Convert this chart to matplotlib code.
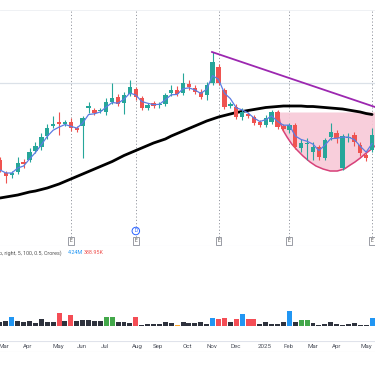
import matplotlib
matplotlib.use("Agg")
import matplotlib.pyplot as plt
import numpy as np
import pandas as pd

plt.rcParams['font.family'] = ['Roboto', 'DejaVu Sans']

# ---------------- data (weekly candles, week index 0 = 26 Feb 2024) ----------------
opens  = [140,127,125,128,138,140,149,153,164,174,178,176,178,172,174,192,190,189,188,198,
          203,197,206,211,202,192,197,195,196,207,210,207,216,212,208,205,217,233,210,194,
          193,183,186,183,178,175,178,188,174,170,175,152,156,148,153,142,163,167,132,162,
          165,155,145,150]
closes = [130,124,127,137,136,148,154,163,172,176,176,178,172,170,182,194,187,190,198,202,
          196,205,213,203,192,195,194,196,205,210,206,217,213,208,203,215,238,217,193,196,
          183,188,184,177,175,182,188,173,171,175,153,157,157,153,143,160,168,162,164,163,
          158,147,142,165]
highs  = [143,129,129,143,141,152,158,167,176,184,188,180,182,174,184,198,192,192,202,217,
          206,208,220,213,204,197,199,198,207,215,214,227,220,215,211,218,248,236,212,198,
          196,192,188,185,180,185,190,190,176,177,177,161,162,158,155,162,177,170,166,167,
          168,158,147,172]
lows   = [128,117,122,126,132,138,147,150,161,172,165,174,169,168,142,187,185,187,185,196,
          194,186,204,200,190,190,192,192,194,204,204,205,210,206,201,200,215,215,191,192,
          181,180,182,175,173,173,176,171,169,167,151,148,140,140,140,140,160,157,130,158,
          154,144,139,148]
# long moving average (black line), read per week
ma_long = [102,103,104,105,106.5,108,109,110.5,112,114,116,118.5,121,123.5,126,128.5,131,133.5,
           136,138.5,141.5,144.5,147,149.5,152,154.5,157,159,161,164,166.5,169,171.5,174,176.5,
           179,181,183,184.5,186,187.5,188.5,189.5,190.5,191.5,192.5,193,193.5,194,194,194,194,
           193.5,193.5,193,192.5,192,191.5,191,190,189,188,186.5,185.5]
# volume (millions)
volumes = [2.0,2.5,4.35,2.35,1.85,2.35,1.35,3.35,2.0,1.85,6.35,2.35,5.35,2.35,2.85,2.85,2.35,
           2.35,4.35,4.35,1.85,1.85,1.65,4.5,0.75,1.0,1.0,1.0,1.85,1.5,0.5,2.15,1.65,1.35,2.15,
           0.85,4.15,3.35,4.0,2.15,3.35,5.85,3.65,3.65,1.0,2.0,1.0,1.0,1.85,7.5,2.15,3.0,3.0,
           1.35,0.5,1.0,2.0,0.85,0.65,1.0,1.35,0.65,0.65,4.24]
vol_class = ['k','k','b','k','k','k','k','k','k','k','r','k','r','k','k','k','k','k','g','g',
             'k','k','k','r','k','k','k','k','k','k','o','k','k','k','k','k','b','r','r','k',
             'r','b','r','r','k','k','k','k','k','b','k','g','g','k','k','k','k','k','k','k',
             'k','k','k','b']
month_labels = ['Mar','Apr','May','Jun','Jul','Aug','Sep','Oct','Nov','Dec','2025','Feb','Mar','Apr','May']
month_idx    = [0.7, 4.75, 9.8, 13.9, 17.8, 23.2, 26.8, 31.8, 35.9, 40, 44.9, 48.9, 53, 57, 62]
earnings_idx = [12, 23, 37, 49, 63]
dividend_idx = [23]
# drawings
trend_idx   = [35.9, 63.5]
trend_price = [248, 193]
hline_price = 217
cup_idx   = [47.1,47.4,47.9,48.6,49.4,50.3,51.3,52.5,53.5,54.7,55.9,57.1,58.3,59.3,60.1,61.0,61.8,62.7,63.5]
cup_price = [188,178,170,163,156,150,144,138,134,131,129,129,131,135,138,142,146,150,154]
cup_top   = 188

# ---------------- figure ----------------
W, H = 375, 366
fig = plt.figure(figsize=(W/100, H/100), dpi=100)
fig.patch.set_facecolor('white')

def fy(px):  # pixel-from-top -> figure fraction
    return 1 - px / H

ax = fig.add_axes([0, fy(246), 1, 246/H])
vax = fig.add_axes([0, fy(341), 1, 95/H], sharex=ax)
tax = fig.add_axes([0, fy(352), 1, 11/H], sharex=ax)
for a in (ax, vax, tax):
    a.set_facecolor('none')
    for s in a.spines.values():
        s.set_visible(False)
    a.tick_params(left=False, bottom=False, labelleft=False, labelbottom=False)
ax.set_xlim(0, 63.5)
ax.set_ylim(54, 300)
vax.set_ylim(-7.5, 40)
tax.set_ylim(0, 1)

UP, DN = '#26a69a', '#ef5350'
idx = np.arange(len(opens))
o = np.array(opens, float); c = np.array(closes, float)
hi = np.array(highs, float); lo = np.array(lows, float)
cols = [UP if cc >= oo else DN for oo, cc in zip(o, c)]

# reference lines
ax.axhline(290, color='#eceff3', lw=0.6, zorder=0)
ax.axhline(hline_price, color='#dbe1e8', lw=0.9, zorder=0)
ax.vlines(earnings_idx, 63, 290, colors='#9598a1', linestyles=(0, (1.2, 2.2)), lw=0.7, zorder=0.5)

# cup pattern
cx = np.array(cup_idx); cy = np.array(cup_price)
ax.fill_between(cx, cy, cup_top, color='#f8c9d7', alpha=0.9, lw=0, zorder=1)
ax.plot(cx, cy, color='#d7427a', lw=1.1, zorder=2)

# long MA
ax.plot(idx, ma_long, color='black', lw=2.0, zorder=3, solid_capstyle='round')

# candles
ax.vlines(idx, lo, hi, colors=cols, lw=0.8, zorder=4)
body_bot = np.minimum(o, c)
body_h = np.maximum(np.abs(c - o), 1.2)
ax.bar(idx, body_h, bottom=body_bot, width=0.74, color=cols, lw=0, zorder=5)

# short EMA
ema = pd.Series(c).ewm(span=3, adjust=False).mean()
ax.plot(idx, ema, color='#5b7de3', lw=0.9, zorder=6)

# trend line
ax.plot(trend_idx, trend_price, color='#9c27b0', lw=1.3, zorder=6)

# earnings / dividend markers
for e in earnings_idx:
    ax.text(e, 59, 'E', fontsize=3.6, color='#555', ha='center', va='center', zorder=7,
            bbox=dict(boxstyle='square,pad=0.3', fc='white', ec='#8a8d96', lw=0.6))
for d in dividend_idx:
    ax.text(d, 69, 'D', fontsize=3.6, color='#2962ff', ha='center', va='center', zorder=7,
            bbox=dict(boxstyle='circle,pad=0.25', fc='white', ec='#2962ff', lw=0.7))

# pane separator
ax.axhline(54.4, color='#e6e9ef', lw=0.8)

# volume
vmap = {'k': '#2e323d', 'b': '#2196f3', 'r': '#f44d55', 'g': '#43a84a', 'o': '#ffa726'}
vax.bar(idx, volumes, width=0.84, color=[vmap[k] for k in vol_class], lw=0)
fig.text(-0.002, fy(253), 'p, right, 5, 100, 0.5, Crores)', fontsize=3.9, color='#555',
         ha='left', va='center')
fig.text(68/W, fy(253), '4.24M', fontsize=3.9, color='#2196f3', ha='left', va='center')
fig.text(84/W, fy(253), '388.95K', fontsize=3.9, color='#ef5350', ha='left', va='center')

# time axis
tax.axhline(0.97, color='#e0e3eb', lw=0.8)
tax.axhline(0.03, color='#e0e3eb', lw=0.8)
for lab, m in zip(month_labels, month_idx):
    tax.text(m, 0.5, lab, fontsize=4.4, color='#4a4e59', ha='center', va='center')

fig.savefig('out.png', dpi=100, facecolor='white')
